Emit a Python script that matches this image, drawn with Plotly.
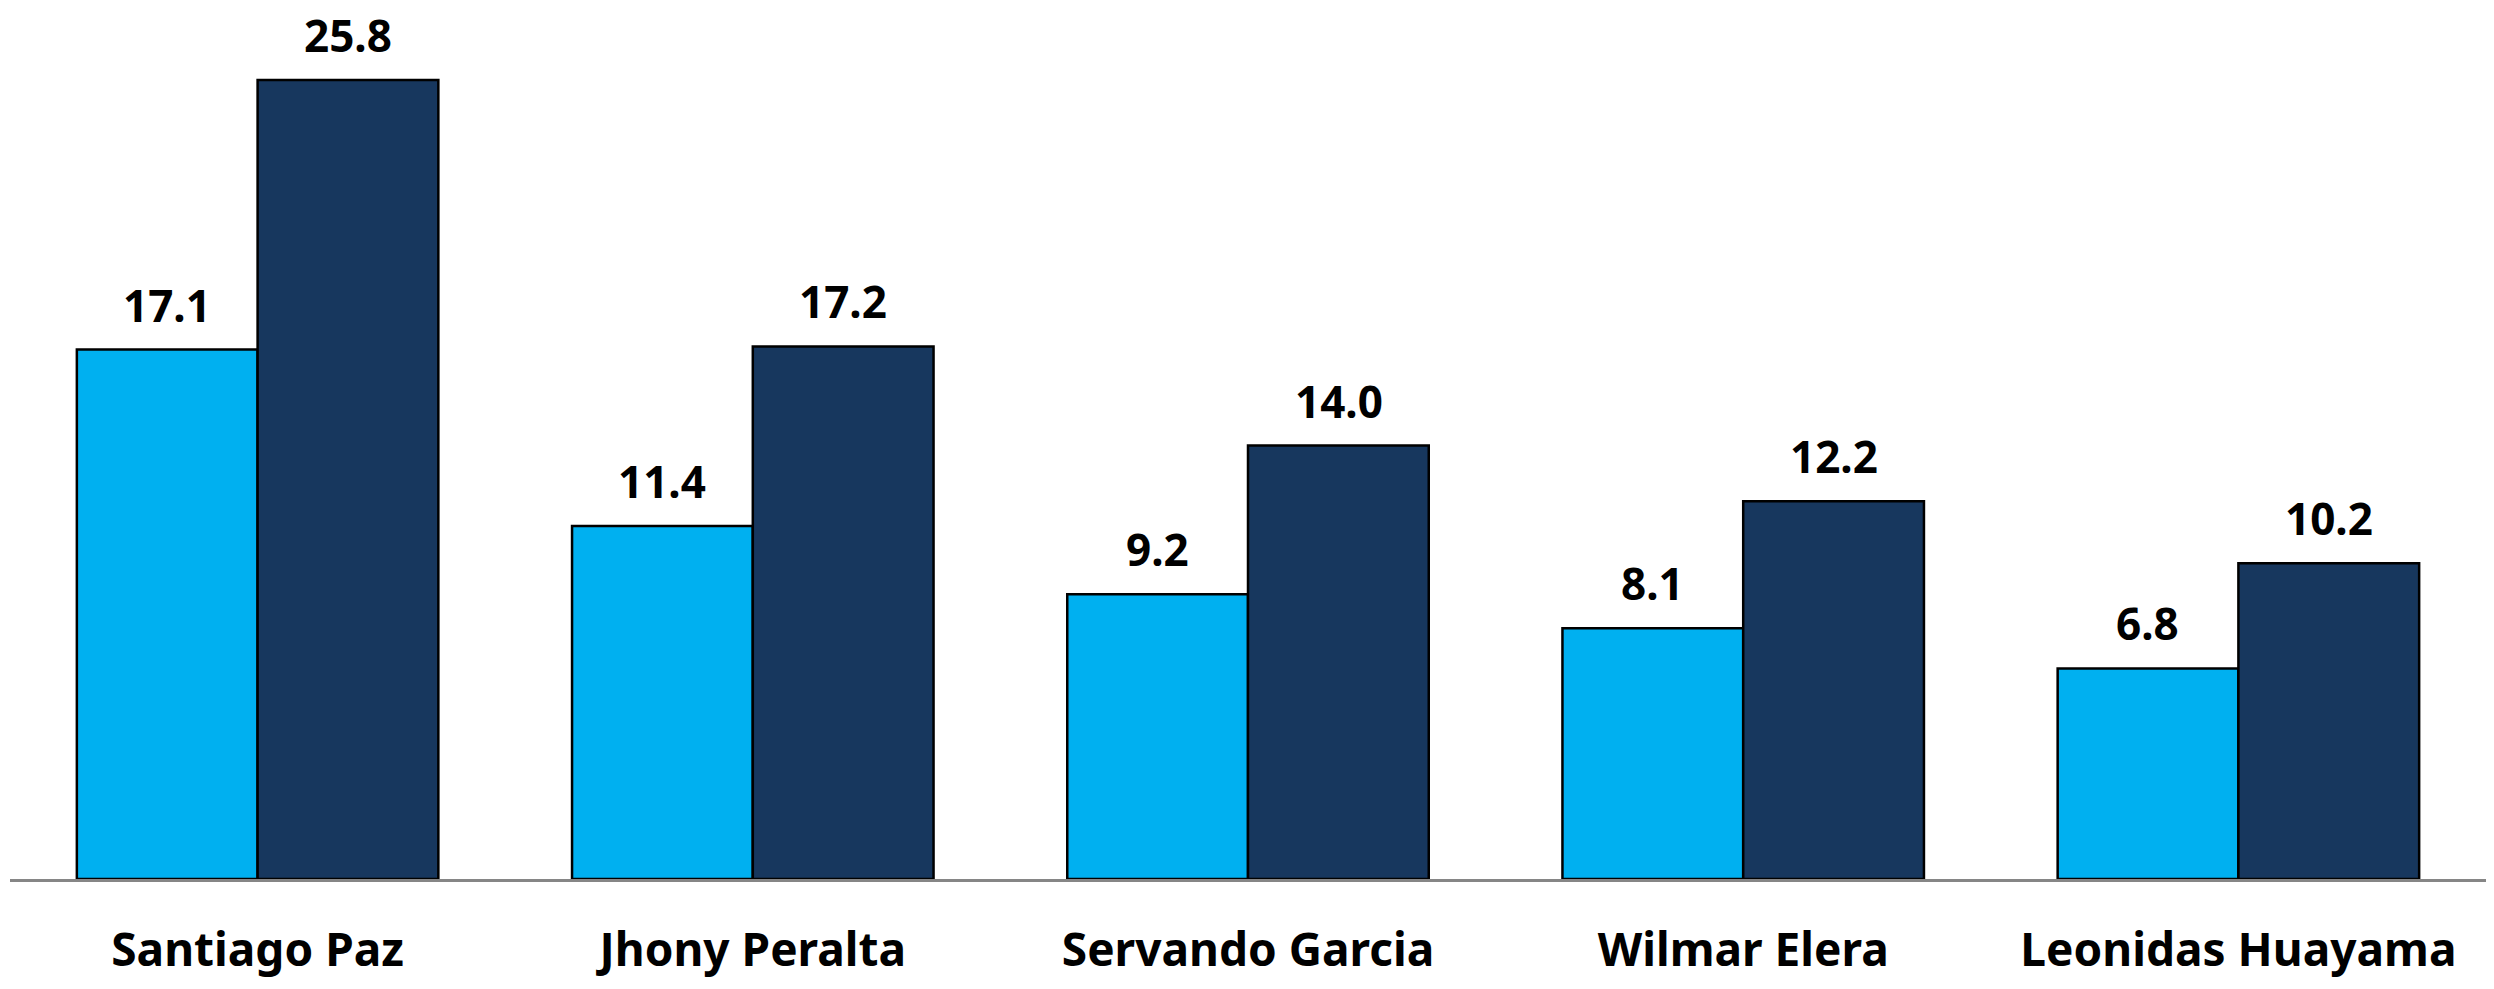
import plotly.graph_objects as go

# data
names = ['Santiago Paz', 'Jhony Peralta', 'Servando Garcia', 'Wilmar Elera', 'Leonidas Huayama']
serie_1 = [17.1, 11.4, 9.2, 8.1, 6.8]
serie_2 = [25.8, 17.2, 14.0, 12.2, 10.2]

light_blue = '#00B0F0'
dark_blue = '#17375E'
tick_font = dict(family='Noto Sans', size=46, color='black', weight='bold')
value_font = dict(family='Noto Sans', size=44, color='black', weight='bold')

fig = go.Figure()

fig.add_trace(go.Bar(
    x=names, y=serie_1,
    marker=dict(color=light_blue, line=dict(color='black', width=2.5)),
    name='Serie 1'
))
fig.add_trace(go.Bar(
    x=names, y=serie_2,
    marker=dict(color=dark_blue, line=dict(color='black', width=2.5)),
    name='Serie 2'
))

# value labels above each bar
bar_px = 181
annotations = []
for values, shift in [(serie_1, -bar_px / 2), (serie_2, bar_px / 2)]:
    for name, v in zip(names, values):
        annotations.append(dict(
            x=name, y=v, text=f'{v:.1f}', showarrow=False,
            xanchor='center', yanchor='bottom', borderpad=0,
            xshift=shift, yshift=14, font=value_font
        ))

# page body keeps its default 8px margin, so the figure is sized to fit inside it
fig.update_layout(
    width=2478, height=973,
    margin=dict(l=2, r=0, t=4, b=102, autoexpand=False),
    paper_bgcolor='white', plot_bgcolor='white',
    barmode='group', bargap=0.27, bargroupgap=0,
    showlegend=False,
    annotations=annotations,
    xaxis=dict(
        showline=True, linecolor='#868686', linewidth=3,
        showgrid=False, ticks='', tickfont=tick_font,
        ticklabelstandoff=29, automargin=False
    ),
    yaxis=dict(visible=False, range=[0, 28], showgrid=False, zeroline=False)
)

fig.write_html("out.html")
